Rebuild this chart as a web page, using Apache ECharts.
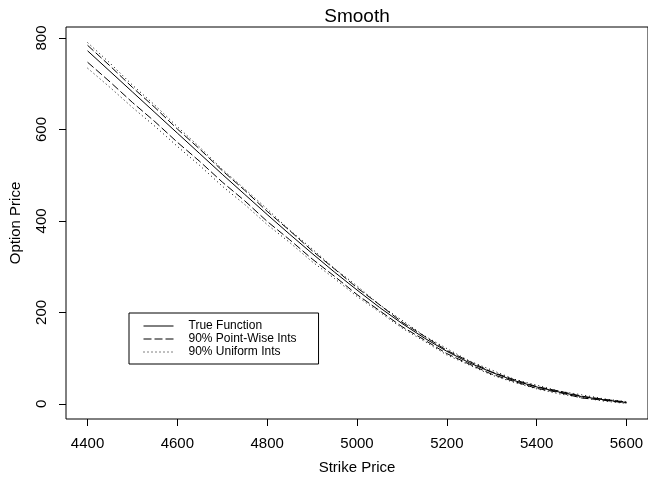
<!DOCTYPE html>
<html>
<head>
<meta charset="utf-8">
<script src="https://cdn.jsdelivr.net/npm/echarts@6/dist/echarts.min.js"></script>
<style>
  html, body { margin: 0; padding: 0; background: #fff; }
  #main { width: 648px; height: 485px; }
</style>
</head>
<body>
<div id="main"></div>
<script>
// strike prices
var strikes = [4400, 4450, 4500, 4550, 4600, 4650, 4700, 4750, 4800, 4850, 4900, 4950,
  5000, 5050, 5100, 5150, 5200, 5250, 5300, 5350, 5400, 5450, 5500, 5550, 5600];

var trueFunction = [772, 727, 682, 637, 592, 547, 502, 458, 414, 371, 329, 288,
  249, 211, 176, 144, 115, 90, 69, 51, 37, 26, 16, 9, 3];

// 90% point-wise intervals
var pointUpper = [784, 739, 692, 648, 601, 557, 510, 467, 421, 379, 335, 295,
  254, 217, 179, 148, 117, 93, 70, 53, 38, 28, 17, 10, 4];
var pointLower = [747, 704, 659, 617, 572, 530, 485, 444, 399, 359, 317, 279,
  239, 204, 169, 140, 110, 87, 65, 49, 34, 25, 13, 8, 2];

// 90% uniform intervals
var uniformUpper = [790, 745, 697, 653, 606, 561, 513, 470, 426, 380, 339, 296,
  258, 217, 183, 149, 121, 94, 74, 54, 41, 28, 20, 11, 5];
var uniformLower = [734, 692, 648, 607, 563, 521, 476, 436, 392, 353, 311, 274,
  235, 201, 166, 137, 107, 85, 63, 47, 33, 22, 14, 6, 1];

var xTicks = [4400, 4600, 4800, 5000, 5200, 5400, 5600];
var yTicks = [0, 200, 400, 600, 800];

var FONT = '"Liberation Sans", Arial, Helvetica, sans-serif';

function pairs(ys) {
  var out = [];
  for (var i = 0; i < strikes.length; i++) {
    out.push([strikes[i], ys[i]]);
  }
  return out;
}

function lineSeries(name, ys, dash) {
  return {
    name: name,
    type: 'line',
    data: pairs(ys),
    showSymbol: false,
    symbol: 'none',
    silent: true,
    animation: false,
    lineStyle: { color: '#000', width: 1, type: dash },
    itemStyle: { color: '#000' }
  };
}

var myChart = echarts.init(document.getElementById('main'));

var option = {
  backgroundColor: '#fff',
  animation: false,
  title: {
    text: 'Smooth',
    left: 357,
    top: 7,
    padding: 0,
    textAlign: 'center',
    textStyle: { fontFamily: FONT, fontSize: 19, fontWeight: 'normal', color: '#000' }
  },
  legend: {
    orient: 'vertical',
    left: 129,
    top: 313,
    padding: [7, 22, 6, 14],
    itemGap: 1,
    itemWidth: 30,
    itemHeight: 12,
    borderColor: '#000',
    borderWidth: 1,
    borderRadius: 0,
    itemStyle: { opacity: 0, borderWidth: 0 },
    lineStyle: { width: 1 },
    textStyle: { fontFamily: FONT, fontSize: 12, color: '#000', padding: [0, 0, 0, 10] },
    data: ['True Function', '90% Point-Wise Ints', '90% Uniform Ints']
  },
  grid: {
    left: 62,
    top: 27,
    width: 588,
    height: 392,
    show: true,
    borderColor: '#000',
    borderWidth: 1,
    backgroundColor: 'transparent'
  },
  xAxis: {
    type: 'value',
    min: 4352,
    max: 5648,
    name: 'Strike Price',
    nameLocation: 'middle',
    nameGap: 41,
    nameTextStyle: { fontFamily: FONT, fontSize: 15, color: '#000' },
    axisLine: { show: false, onZero: false },
    axisTick: { show: true, inside: false, length: 7, customValues: xTicks,
      lineStyle: { color: '#000', width: 1 } },
    axisLabel: { customValues: xTicks, margin: 17, fontFamily: FONT, fontSize: 15, color: '#000',
      formatter: function (v) { return String(v); } },
    splitLine: { show: false }
  },
  yAxis: {
    type: 'value',
    min: -33,
    max: 824,
    name: 'Option Price',
    nameLocation: 'middle',
    nameGap: 43,
    nameRotate: 90,
    nameTextStyle: { fontFamily: FONT, fontSize: 15, color: '#000' },
    axisLine: { show: false, onZero: false },
    axisTick: { show: true, inside: false, length: 7, customValues: yTicks,
      lineStyle: { color: '#000', width: 1 } },
    axisLabel: { customValues: yTicks, rotate: 90, margin: 17, fontFamily: FONT, fontSize: 15, color: '#000',
      formatter: function (v) { return String(v); } },
    splitLine: { show: false }
  },
  series: [
    lineSeries('True Function', trueFunction, 'solid'),
    lineSeries('90% Point-Wise Ints', pointUpper, [8, 3]),
    lineSeries('90% Point-Wise Ints', pointLower, [8, 3]),
    lineSeries('90% Uniform Ints', uniformUpper, [1, 3]),
    lineSeries('90% Uniform Ints', uniformLower, [1, 3])
  ]
};

myChart.setOption(option);
</script>
</body>
</html>
